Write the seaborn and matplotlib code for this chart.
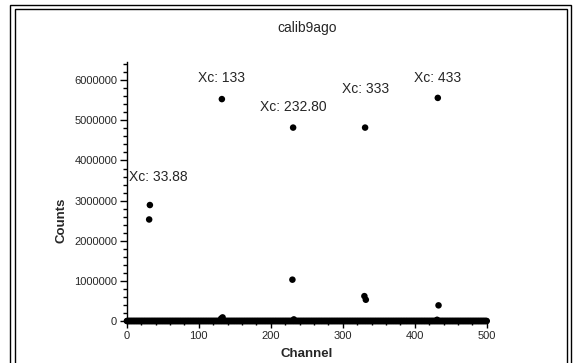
import matplotlib
matplotlib.use("Agg")
import matplotlib.pyplot as plt
from matplotlib.patches import Rectangle
from matplotlib.ticker import MultipleLocator
import seaborn as sns
import pandas as pd
import numpy as np

# baseline: every channel of the spectrum sits close to zero counts
channels = np.arange(0, 501)
baseline_counts = np.zeros(len(channels))

# points standing clear of the baseline
peak_channels = [31, 32, 131, 132, 133, 230, 231, 232, 330, 331, 332, 431, 432, 433]
peak_counts = [2530000, 2890000, 60000, 5530000, 90000, 1030000, 4820000, 40000,
               620000, 4820000, 530000, 30000, 5560000, 390000]

# centroid labels
label_channels = [32, 132, 231, 331, 432]
label_counts = [2890000, 5530000, 4820000, 4820000, 5560000]
label_texts = ["Xc: 33.88", "Xc: 133", "Xc: 232.80", "Xc: 333", "Xc: 433"]

df = pd.DataFrame({
    "Channel": np.concatenate([channels, peak_channels]),
    "Counts": np.concatenate([baseline_counts, peak_counts]),
})

sns.set_style("ticks")
plt.rcParams["font.family"] = ["Liberation Sans", "DejaVu Sans"]

fig = plt.figure(figsize=(5.74, 3.63), dpi=100)
ax = fig.add_axes([0.221, 0.1157, 0.627, 0.713])

sns.scatterplot(data=df, x="Channel", y="Counts", ax=ax, color="black",
                s=22, edgecolor="none", linewidth=0, clip_on=False, zorder=3)

ax.set_xlim(0, 500)
ax.set_ylim(0, 6450000)
ax.xaxis.set_major_locator(MultipleLocator(100))
ax.xaxis.set_minor_locator(MultipleLocator(20))
ax.yaxis.set_major_locator(MultipleLocator(1000000))
ax.yaxis.set_minor_locator(MultipleLocator(200000))
ax.ticklabel_format(style="plain", axis="y", useOffset=False)
ax.tick_params(which="major", length=5, width=1, labelsize=8, pad=2, color="black")
ax.tick_params(which="minor", length=3, width=1, color="black")
sns.despine(ax=ax)
for s in ["left", "bottom"]:
    ax.spines[s].set_linewidth(1)
    ax.spines[s].set_color("black")

ax.set_xlabel("Channel", fontsize=9.5, fontweight="bold")
ax.set_ylabel("Counts", fontsize=9.5, fontweight="bold")
ax.xaxis.set_label_coords(0.5, -0.105)
ax.yaxis.set_label_coords(-0.164, 0.39)
fig.text(0.535, 0.923, "calib9ago", ha="center", va="center", fontsize=10)

offsets = [(6, 15.5), (0, 10), (0, 9.5), (0, 22.5), (0, 9.5)]
for cx, cy, txt, (dx, dy) in zip(label_channels, label_counts, label_texts, offsets):
    ax.annotate(txt, (cx, cy), xytext=(dx, dy), textcoords="offset points",
                ha="center", va="bottom", fontsize=10, annotation_clip=False)

# double frame around the figure
for x0, y1, x1 in [(10, 5, 571), (15, 9, 567)]:
    fig.patches.append(Rectangle((x0 / 574, -0.05), (x1 - x0) / 574,
                                 (363 - y1) / 363 + 0.05, fill=False,
                                 edgecolor="black", linewidth=1,
                                 transform=fig.transFigure, figure=fig))

fig.savefig("out.png", dpi=100)
